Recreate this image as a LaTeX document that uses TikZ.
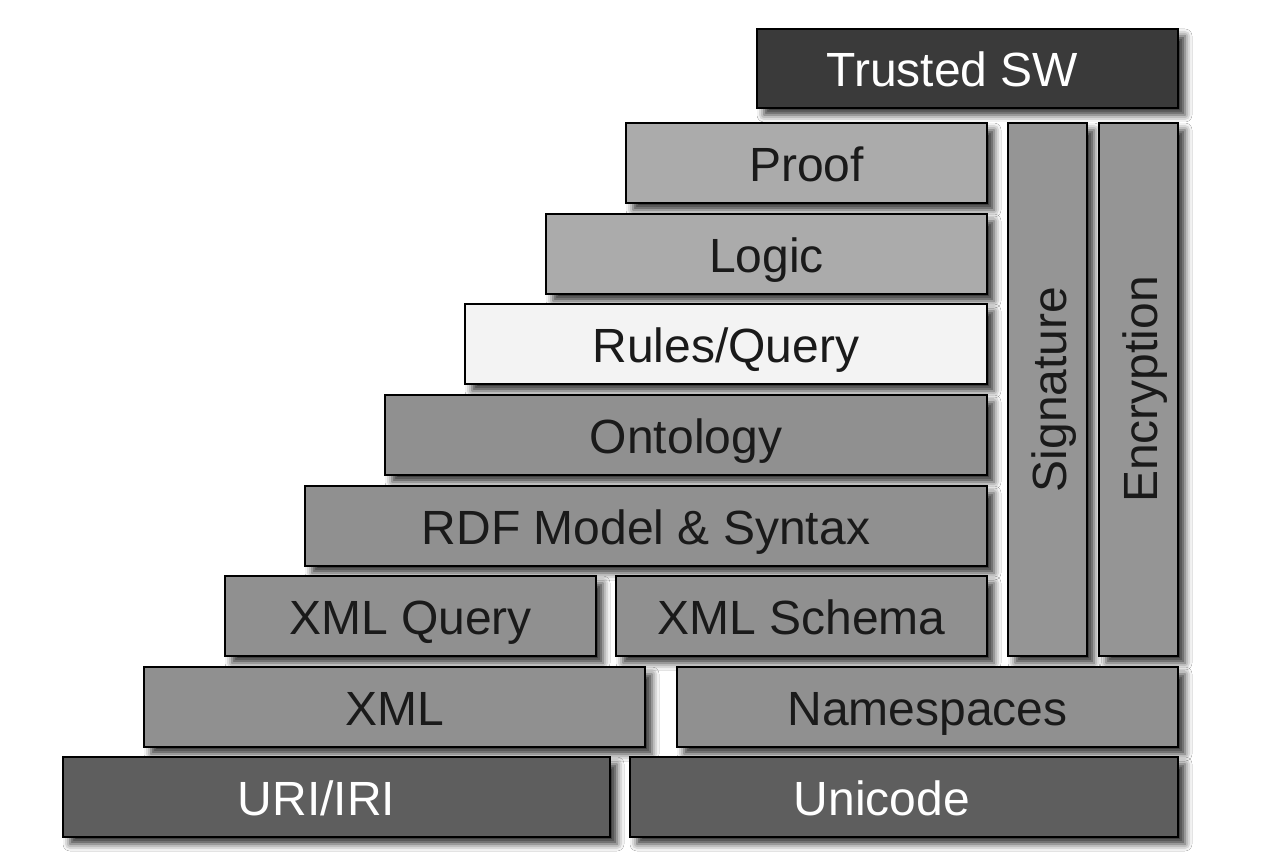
\documentclass[tikz,border=0pt]{standalone}
\usepackage{fontspec}
\setmainfont{Liberation Sans}
\usetikzlibrary{shadows.blur}
\definecolor{cdark}{HTML}{3A3A3A}
\definecolor{cbase}{HTML}{5E5E5E}
\definecolor{clight}{HTML}{ABABAB}
\definecolor{cwhite}{HTML}{F3F3F3}
\definecolor{cmid}{HTML}{909090}
\definecolor{ccol}{HTML}{959595}
\definecolor{ctext}{HTML}{1A1A1A}
\tikzset{
  blk/.style={draw=black, line width=1.8pt, inner sep=0pt, text=ctext,
    font=\fontsize{48}{54}\selectfont, text height=37pt, text depth=0pt,
    blur shadow={shadow xshift=7pt, shadow yshift=-7pt, shadow blur radius=7pt,
      shadow blur extra rounding=0pt, shadow opacity=80}},
  row/.style={blk, minimum height=80pt},
  whitetext/.style={text=white},
}
\begin{document}
\begin{tikzpicture}[x=1pt,y=1pt]
\useasboundingbox[fill=white] (0,0) rectangle (1270,-853);
\node[row, fill=cdark, whitetext, minimum width=421pt, minimum height=79pt] (tsw) at (967.5,-68.5) {\hspace*{-30pt}Trusted SW};
\node[row, fill=clight, minimum width=361pt] (proof) at (806.5,-163) {Proof};
\node[row, fill=clight, minimum width=441pt] (logic) at (766.5,-254) {Logic};
\node[row, fill=cwhite, minimum width=522pt] (rules) at (726,-344) {Rules/Query};
\node[row, fill=cmid, minimum width=602pt] (onto) at (686,-435) {Ontology};
\node[row, fill=cmid, minimum width=682pt] (rdf) at (646,-526) {RDF Model \& Syntax};
\node[row, fill=cmid, minimum width=371pt] (xmlq) at (410.5,-616) {XML Query};
\node[row, fill=cmid, minimum width=371pt] (xmls) at (801.5,-616) {XML Schema};
\node[blk, fill=ccol, rotate=90, minimum width=533pt, minimum height=79pt] (sig) at (1047.5,-389.5) {Signature};
\node[blk, fill=ccol, rotate=90, minimum width=533pt, minimum height=79pt] (enc) at (1138.5,-389.5) {Encryption};
\node[row, fill=cmid, minimum width=501pt] (xml) at (394.5,-707) {XML};
\node[row, fill=cmid, minimum width=501pt] (ns) at (927.5,-707) {Namespaces};
\node[row, fill=cbase, whitetext, minimum width=547pt] (uri) at (336.5,-797) {\hspace*{-40pt}URI/IRI};
\node[row, fill=cbase, whitetext, minimum width=548pt] (uni) at (904,-797) {\hspace*{-44pt}Unicode};
\end{tikzpicture}
\end{document}
